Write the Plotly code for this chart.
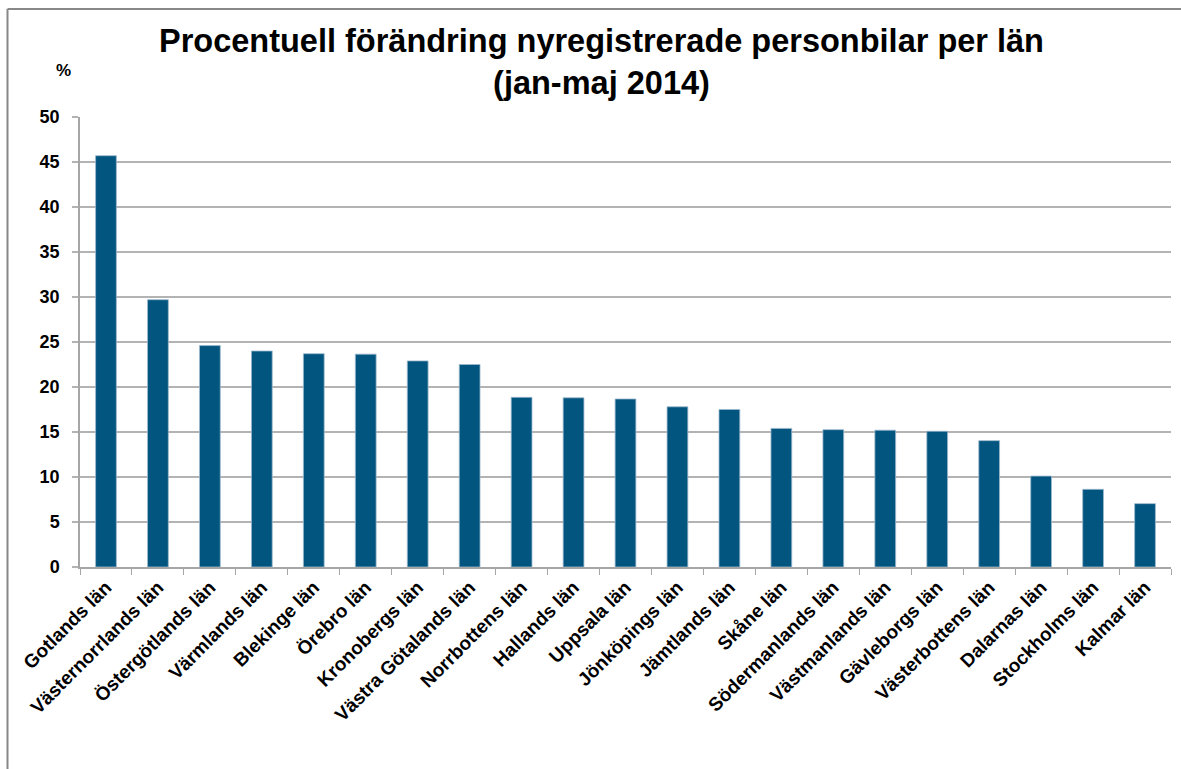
import plotly.graph_objects as go

categories = ["Gotlands län", "Västernorrlands län", "Östergötlands län", "Värmlands län",
              "Blekinge län", "Örebro län", "Kronobergs län", "Västra Götalands län",
              "Norrbottens län", "Hallands län", "Uppsala län", "Jönköpings län",
              "Jämtlands län", "Skåne län", "Södermanlands län", "Västmanlands län",
              "Gävleborgs län", "Västerbottens län", "Dalarnas län", "Stockholms län",
              "Kalmar län"]
values = [45.7, 29.7, 24.6, 24.0, 23.7, 23.65, 22.9, 22.5, 18.85, 18.8, 18.67,
          17.8, 17.5, 15.4, 15.26, 15.2, 15.08, 14.04, 10.1, 8.63, 7.04]
y_ticks = [0, 5, 10, 15, 20, 25, 30, 35, 40, 45, 50]

FONT = "Liberation Sans, Arial, sans-serif"
W, H = 1181, 769
ML, MR, MT, MB = 80, 10, 117, 202
pw = W - ML - MR
ph = H - MT - MB

def px_x(x):
    return (x - ML) / pw

def px_y(y):
    return (H - MB - y) / ph

fig = go.Figure(go.Bar(
    x=categories, y=values,
    marker=dict(color="#02557F", line=dict(color="#9DB9CE", width=0.8)),
    width=0.4,
))

fig.update_layout(
    width=W, height=H,
    margin=dict(l=ML, r=MR, t=MT, b=MB),
    paper_bgcolor="white", plot_bgcolor="white",
    showlegend=False,
    font=dict(family=FONT, color="black"),
    xaxis=dict(
        tickangle=-45,
        tickfont=dict(family=FONT, size=19, color="black", weight="bold"),
        showgrid=False,
        showline=True, linecolor="#A6A6A6", linewidth=1.5,
        ticks="outside", ticklen=6, tickcolor="#A6A6A6", tickwidth=1.2,
        tickson="boundaries",
    ),
    yaxis=dict(
        range=[0, 50],
        tickvals=y_ticks,
        tickfont=dict(family=FONT, size=18, color="black", weight="bold"),
        showgrid=True, gridcolor="#B3B3B3", gridwidth=1.5,
        showline=True, linecolor="#A6A6A6", linewidth=1.5,
        ticks="outside", ticklen=6, tickcolor="#B3B3B3", tickwidth=1.5,
        zeroline=False,
        ticklabelstandoff=9,
    ),
    annotations=[
        dict(text="<b>Procentuell förändring nyregistrerade personbilar per län<br>(jan-maj 2014)</b>",
             xref="paper", yref="paper", x=px_x(601), y=px_y(62),
             xanchor="center", yanchor="middle", showarrow=False,
             font=dict(family=FONT, size=32.5, color="black")),
        dict(text="<b>%</b>", xref="paper", yref="paper",
             x=px_x(63), y=px_y(70), xanchor="center", yanchor="middle",
             showarrow=False, font=dict(family=FONT, size=17, color="black")),
    ],
    shapes=[
        dict(type="line", xref="paper", yref="paper",
             x0=px_x(7.5), x1=px_x(W + 5), y0=px_y(9), y1=px_y(9),
             line=dict(color="#888888", width=2)),
        dict(type="line", xref="paper", yref="paper",
             x0=px_x(7.5), x1=px_x(7.5), y0=px_y(9), y1=px_y(H + 5),
             line=dict(color="#888888", width=2)),
    ],
)

fig.write_html("out.html", config={"displayModeBar": False},
               post_script="document.body.style.margin='0';")
